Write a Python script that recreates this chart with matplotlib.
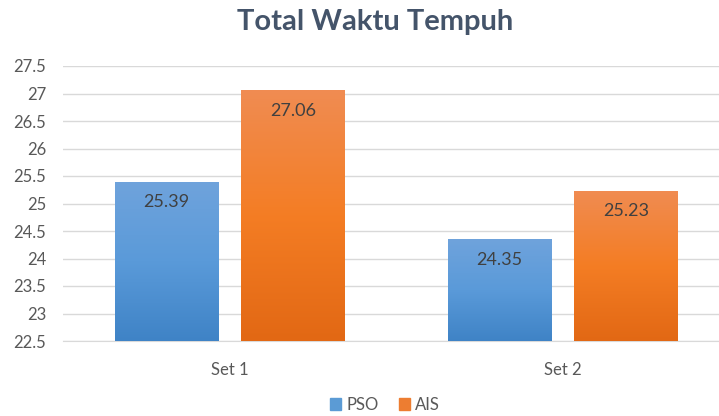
import numpy as np
import matplotlib
matplotlib.use("Agg")
import matplotlib.pyplot as plt
from matplotlib.colors import LinearSegmentedColormap
from matplotlib.patches import Patch

## Data
categories = ["Set 1", "Set 2"]
pso = [25.39, 24.35]
ais = [27.06, 25.23]
series = {"PSO": pso, "AIS": ais}

plt.rcParams['font.family'] = ['Lato', 'DejaVu Sans']

fig = plt.figure(figsize=(7.19, 4.16), dpi=100)
ax = fig.add_axes([63/719, (416-341)/416, (719-63)/719, (341-66)/416])

ymin, ymax = 22.5, 27.5
x = np.arange(len(categories))
width = 0.31
offset = 0.19

# gradient colours (top -> bottom), Excel style
grads = {
    "PSO": ["#6fa3dc", "#5a9ad9", "#3f83c6"],
    "AIS": ["#f08c52", "#f47d24", "#e26814"],
}
solid = {"PSO": "#5b9bd5", "AIS": "#ed7d31"}

for i, (name, vals) in enumerate(series.items()):
    pos = x + (-offset if i == 0 else offset)
    bars = ax.bar(pos, np.array(vals) - ymin, width, bottom=ymin,
                  color=solid[name], zorder=2)
    cmap = LinearSegmentedColormap.from_list(name, grads[name][::-1])
    grad = np.linspace(0, 1, 256).reshape(-1, 1)
    for b, v in zip(bars, vals):
        x0 = b.get_x()
        im = ax.imshow(grad, cmap=cmap, aspect='auto', origin='lower',
                       extent=[x0, x0 + width, ymin, v], zorder=3)
        im.set_clip_path(b)
        ax.text(b.get_x() + width/2, v - 0.37, f"{v:.2f}", ha='center', va='center',
                fontsize=13, color='#404040', zorder=4)

ax.set_xlim(-0.5, -0.5 + 656/333)
ax.set_ylim(ymin, ymax)
ax.set_yticks(np.arange(22.5, 27.51, 0.5))
ax.set_yticklabels([f"{t:g}" for t in np.arange(22.5, 27.51, 0.5)])
ax.set_xticks(x)
ax.set_xticklabels(categories)
ax.grid(axis='y', color='#d9d9d9', linewidth=1, zorder=0)
ax.set_axisbelow(True)
for s in ['top', 'right', 'left']:
    ax.spines[s].set_visible(False)
ax.spines['bottom'].set_color('#d9d9d9')
ax.tick_params(axis='both', length=0, labelsize=12, labelcolor='#595959')
ax.tick_params(axis='y', pad=12)
ax.tick_params(axis='x', pad=15)

fig.text(375/719, 1 - 22/416, "Total Waktu Tempuh", ha='center', va='center',
         fontsize=21, fontweight='bold', color='#44546a')

handles = [Patch(color=solid[n]) for n in series]
fig.legend(handles, list(series.keys()), loc='center', bbox_to_anchor=(385/719, 1 - 405/416),
           ncol=2, frameon=False, fontsize=12, handlelength=0.7, handleheight=0.7,
           handletextpad=0.3, columnspacing=1.2, labelcolor='#595959')

fig.savefig("out.png", dpi=100)
